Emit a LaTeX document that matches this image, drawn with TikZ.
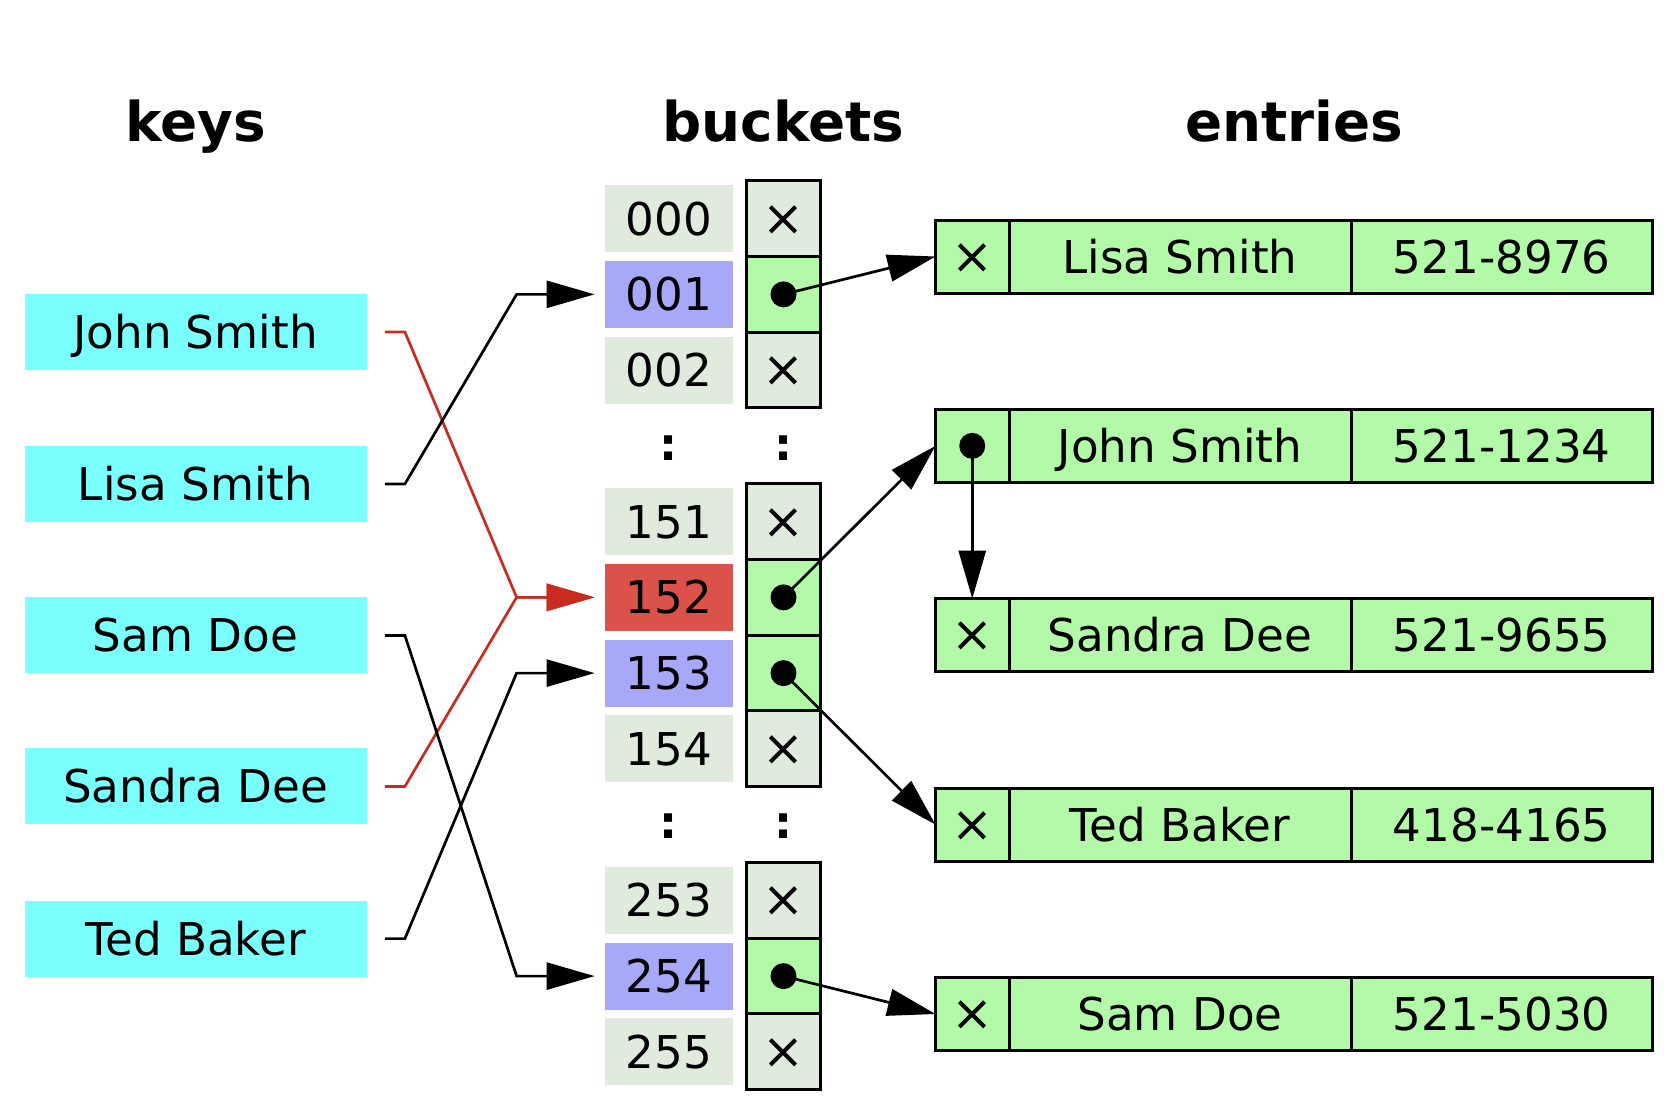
\documentclass[tikz,border=0pt]{standalone}
\usepackage{fontspec}
\setmainfont{DejaVu Sans}
\usetikzlibrary{arrows.meta}
\definecolor{keycyan}{RGB}{122,255,255}
\definecolor{bgray}{RGB}{224,235,222}
\definecolor{blav}{RGB}{168,168,248}
\definecolor{bred}{RGB}{218,82,74}
\definecolor{cgreen}{RGB}{178,250,168}
\definecolor{lred}{RGB}{200,44,30}
\newcommand{\crossmark}{{\fontsize{25pt}{27pt}\selectfont ×}}
\begin{document}
\begin{tikzpicture}[x=0.5pt,y=-0.5pt,
  txt/.style={font=\fontsize{22.6pt}{27pt}\selectfont, text height=16.5pt, text depth=0pt, inner sep=0pt},
  title/.style={font=\fontsize{27.4pt}{32pt}\selectfont\bfseries, anchor=base, inner sep=0pt},
  colon/.style={font=\fontsize{22.6pt}{27pt}\selectfont\bfseries, anchor=base, inner sep=0pt},
  keybox/.style={txt, fill=keycyan, minimum width=171pt, minimum height=38pt},
  numbox/.style={txt, fill=bgray, minimum width=64pt, minimum height=33.5pt},
  ptrcell/.style={txt, draw, line width=1.5pt, fill=bgray, minimum width=37pt, minimum height=37.875pt},
  usedcell/.style={ptrcell, fill=cgreen},
  ecell/.style={txt, draw, line width=1.5pt, fill=cgreen, minimum height=36.5pt, anchor=west, outer sep=0pt},
  xcell/.style={ecell, minimum width=36.75pt},
  namecell/.style={ecell, minimum width=171pt},
  phonecell/.style={ecell, minimum width=150.75pt},
  dot/.style={circle, fill=black, inner sep=0pt, minimum size=13pt},
  conn/.style={line width=1.35pt, line join=miter, -{Triangle[length=24pt,width=13.5pt]}},
  redconn/.style={conn, draw=lred, color=lred},
  parr/.style={line width=1.35pt, -{Triangle[length=24pt,width=13.5pt]}}
]
\useasboundingbox (0,0) rectangle (1680,1114);

% titles
\node[title] (tkeys) at (195.5,141) {keys};
\node[title] (tbuckets) at (783.5,141) {buckets};
\node[title] (tentries) at (1294,141) {entries};

% keys
\node[keybox] (kJohn) at (195.5,332) {John Smith};
\node[keybox] (kLisa) at (195.5,484) {Lisa Smith};
\node[keybox] (kSam) at (195.5,635.4) {Sam Doe};
\node[keybox] (kSandra) at (195.5,786.4) {Sandra Dee};
\node[keybox] (kTed) at (195.5,938.6) {Ted Baker};

% bucket numbers
\node[numbox] (b0) at (669,218.6) {000};
\node[numbox, fill=blav] (b1) at (669,294.35) {001};
\node[numbox] (b2) at (669,370.1) {002};
\node[colon] (c1) at (669,460) {:};
\node[numbox] (b4) at (669,521.6) {151};
\node[numbox, fill=bred] (b5) at (669,597.35) {152};
\node[numbox, fill=blav] (b6) at (669,673.1) {153};
\node[numbox] (b7) at (669,748.85) {154};
\node[colon] (c2) at (669,838.7) {:};
\node[numbox] (b9) at (669,900.35) {253};
\node[numbox, fill=blav] (b10) at (669,976.1) {254};
\node[numbox] (b11) at (669,1051.85) {255};

% bucket pointer cells
\node[ptrcell] (p0) at (783.5,218.6) {\crossmark};
\node[usedcell] (p1) at (783.5,294.35) {};
\node[ptrcell] (p2) at (783.5,370.1) {\crossmark};
\node[colon] (c3) at (783.5,460) {:};
\node[ptrcell] (p4) at (783.5,521.6) {\crossmark};
\node[usedcell] (p5) at (783.5,597.35) {};
\node[usedcell] (p6) at (783.5,673.1) {};
\node[ptrcell] (p7) at (783.5,748.85) {\crossmark};
\node[colon] (c4) at (783.5,838.7) {:};
\node[ptrcell] (p9) at (783.5,900.35) {\crossmark};
\node[usedcell] (p10) at (783.5,976.1) {};
\node[ptrcell] (p11) at (783.5,1051.85) {\crossmark};
\node[dot] (d1) at (p1.center) {};
\node[dot] (d5) at (p5.center) {};
\node[dot] (d6) at (p6.center) {};
\node[dot] (d10) at (p10.center) {};

% entries
\node[xcell] (x1) at (935.5,256.5) {\crossmark};
\node[namecell] (n1) at (x1.east) {Lisa Smith};
\node[phonecell] (t1) at (n1.east) {521-8976};

\node[xcell] (x2) at (935.5,445.85) {};
\node[namecell] (n2) at (x2.east) {John Smith};
\node[phonecell] (t2) at (n2.east) {521-1234};
\node[dot] (dJ) at (x2.center) {};

\node[xcell] (x3) at (935.5,635.2) {\crossmark};
\node[namecell] (n3) at (x3.east) {Sandra Dee};
\node[phonecell] (t3) at (n3.east) {521-9655};

\node[xcell] (x4) at (935.5,824.6) {\crossmark};
\node[namecell] (n4) at (x4.east) {Ted Baker};
\node[phonecell] (t4) at (n4.east) {418-4165};

\node[xcell] (x5) at (935.5,1014) {\crossmark};
\node[namecell] (n5) at (x5.east) {Sam Doe};
\node[phonecell] (t5) at (n5.east) {521-5030};

% pointers from buckets to entries
\draw[parr] (d1.center) -- (x1.west);
\draw[parr] (d5.center) -- (x2.west);
\draw[parr] (dJ.center) -- (x3.north);
\draw[parr] (d6.center) -- (x4.west);
\draw[parr] (d10.center) -- (x5.west);

% hash connectors from keys to buckets
\draw[redconn] ([xshift=9pt]kJohn.east) -- ++(10pt,0) -- ([xshift=-44pt]b5.west) -- ([xshift=-5pt]b5.west);
\draw[redconn] ([xshift=9pt]kSandra.east) -- ++(10pt,0) -- ([xshift=-44pt]b5.west) -- ([xshift=-5pt]b5.west);
\draw[conn] ([xshift=9pt]kLisa.east) -- ++(10pt,0) -- ([xshift=-44pt]b1.west) -- ([xshift=-5pt]b1.west);
\draw[conn] ([xshift=9pt]kSam.east) -- ++(10pt,0) -- ([xshift=-44pt]b10.west) -- ([xshift=-5pt]b10.west);
\draw[conn] ([xshift=9pt]kTed.east) -- ++(10pt,0) -- ([xshift=-44pt]b6.west) -- ([xshift=-5pt]b6.west);
\end{tikzpicture}
\end{document}
